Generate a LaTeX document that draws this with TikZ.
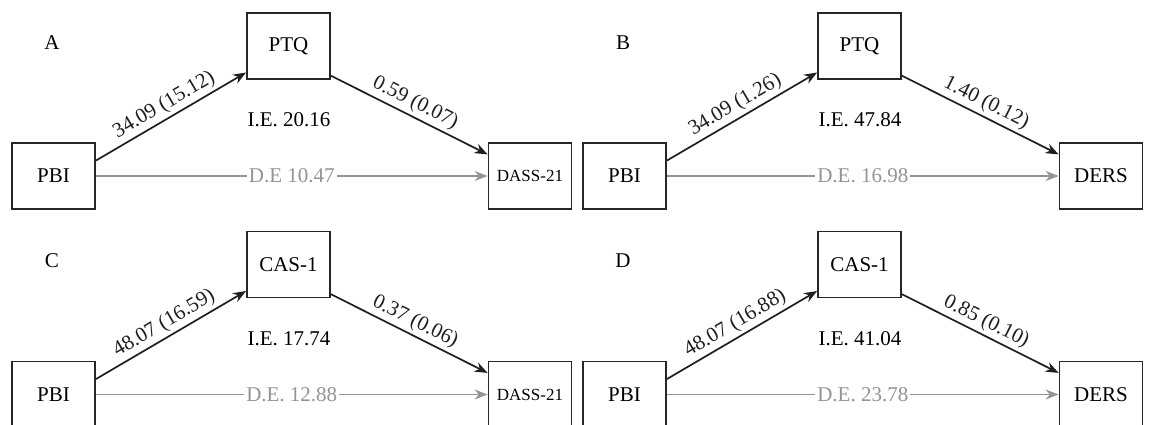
\documentclass[tikz,border=0pt]{standalone}
\usepackage{fontspec}
\setmainfont{Liberation Serif}
\usepackage{xcolor}
\usepackage{tikz}
\usetikzlibrary{arrows.meta}
\definecolor{degray}{gray}{0.58}

\begin{document}
\begin{tikzpicture}[x=0.5pt, y=-0.5pt, font=\fontsize{10.5}{12}\selectfont]
	\tikzstyle{box}=[rectangle,draw=black!85,line width=0.9pt,minimum width=41.5pt,minimum height=33pt,inner sep=0pt]
	\tikzstyle{small}=[font=\fontsize{8.5}{10}\selectfont]
	\tikzstyle{effect}=[-{Stealth[length=6.5pt,width=5pt]},line width=0.85pt,color=black!88]
	\tikzstyle{deffect}=[effect,color=degray,line width=0.7pt]
	\tikzstyle{coef}=[sloped,above,inner sep=1.5pt]
	\tikzstyle{delabel}=[fill=white,inner sep=1pt]
	\useasboundingbox (0,0) rectangle (1151,424);
	\clip (0,0) rectangle (1151,424);
	% A
	\node (labA) at (52,43) {A};
	\node[box] (pbiA) at (53.5,176) {PBI};
	\node[box] (ptqA) at (288.5,46) {PTQ};
	\node[box,small] (dassA) at (530,176) {DASS-21};
	\node (ieA) at (289,120) {I.E. 20.16};
	\path[effect]
		(pbiA.20) edge node[coef] {34.09 (15.12)} (ptqA.212)
		(ptqA.325) edge node[coef] {0.59 (0.07)} (dassA.153);
	\path[deffect]
		(pbiA) edge node[delabel] {D.E 10.47} (dassA);
	% B
	\node (labB) at (623,43) {B};
	\node[box] (pbiB) at (624.5,176) {PBI};
	\node[box] (ptqB) at (859.5,46) {PTQ};
	\node[box] (dersB) at (1101,176) {DERS};
	\node (ieB) at (860,120) {I.E. 47.84};
	\path[effect]
		(pbiB.20) edge node[coef] {34.09 (1.26)} (ptqB.212)
		(ptqB.325) edge node[coef] {1.40 (0.12)} (dersB.153);
	\path[deffect]
		(pbiB) edge node[delabel] {D.E. 16.98} (dersB);
	% C
	\node (labC) at (52,261) {C};
	\node[box] (pbiC) at (53.5,394.5) {PBI};
	\node[box] (casC) at (288.5,264.5) {CAS-1};
	\node[box,small] (dassC) at (530,394.5) {DASS-21};
	\node (ieC) at (289,338.5) {I.E. 17.74};
	\path[effect]
		(pbiC.20) edge node[coef] {48.07 (16.59)} (casC.212)
		(casC.325) edge node[coef] {0.37 (0.06)} (dassC.153);
	\path[deffect]
		(pbiC) edge node[delabel] {D.E. 12.88} (dassC);
	% D
	\node (labD) at (623,261) {D};
	\node[box] (pbiD) at (624.5,394.5) {PBI};
	\node[box] (casD) at (859.5,264.5) {CAS-1};
	\node[box] (dersD) at (1101,394.5) {DERS};
	\node (ieD) at (860,338.5) {I.E. 41.04};
	\path[effect]
		(pbiD.20) edge node[coef] {48.07 (16.88)} (casD.212)
		(casD.325) edge node[coef] {0.85 (0.10)} (dersD.153);
	\path[deffect]
		(pbiD) edge node[delabel] {D.E. 23.78} (dersD);
\end{tikzpicture}
\end{document}
